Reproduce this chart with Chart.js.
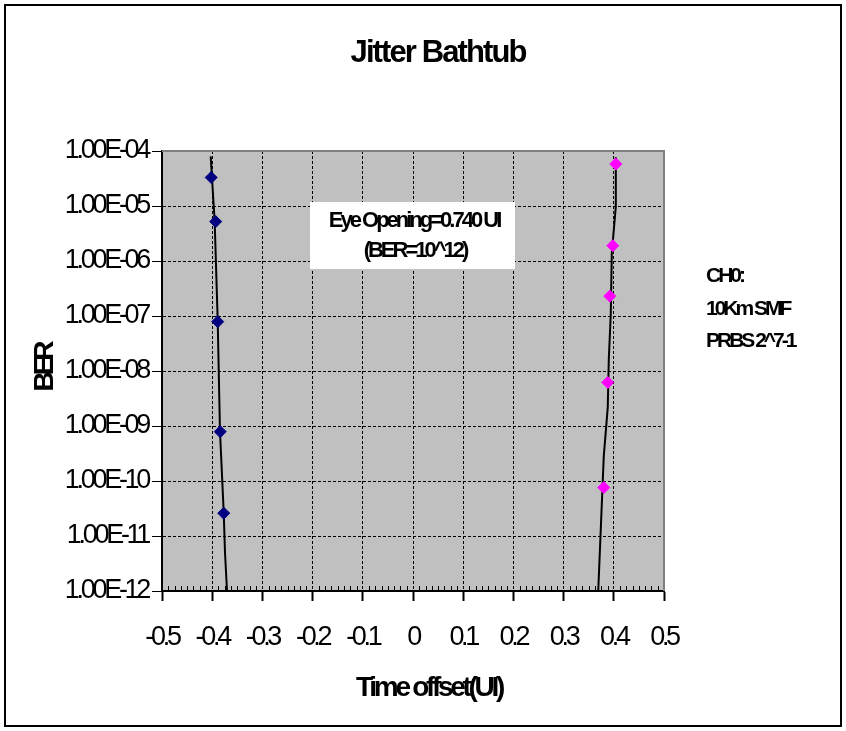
<!DOCTYPE html>
<html>
<head>
<meta charset="utf-8">
<script src="https://cdn.jsdelivr.net/npm/chart.js@4/dist/chart.umd.min.js"></script>
<style>
  body { margin: 0; background: #fff; }
  #wrap { width: 846px; height: 731px; }
</style>
</head>
<body>
<div id="wrap"><canvas id="chart" width="846" height="731"></canvas></div>
<script>
// Measured points (time offset in UI, BER)
const leftX = [-0.402, -0.393, -0.389, -0.384, -0.377];
const leftBER = [3.3e-5, 5.2e-6, 7.9e-8, 7.9e-10, 2.6e-11];
const rightX = [0.404, 0.398, 0.392, 0.388, 0.380];
const rightBER = [5.8e-5, 1.9e-6, 2.3e-7, 6.2e-9, 7.6e-11];

// Fitted bathtub curves
const leftFitX = [-0.403, -0.395, -0.389, -0.3845, -0.377, -0.3745, -0.3705];
const leftFitBER = [8e-5, 5e-6, 8e-8, 8e-10, 2.6e-11, 5e-12, 1e-12];
const rightFitX = [0.404, 0.404, 0.396, 0.394, 0.390, 0.388, 0.380, 0.369];
const rightFitBER = [7.7e-5, 9.7e-6, 1.4e-6, 1.1e-7, 1.6e-8, 2.2e-9, 2.8e-10, 1e-12];

// Axis ticks
const xTickValues = [-0.5, -0.4, -0.3, -0.2, -0.1, 0, 0.1, 0.2, 0.3, 0.4, 0.5];
const xTickLabels = ["-0.5", "-0.4", "-0.3", "-0.2", "-0.1", "0", "0.1", "0.2", "0.3", "0.4", "0.5"];
const yTickValues = [1e-12, 1e-11, 1e-10, 1e-9, 1e-8, 1e-7, 1e-6, 1e-5, 1e-4];
const yTickLabels = ["1.00E-12", "1.00E-11", "1.00E-10", "1.00E-09", "1.00E-08", "1.00E-07", "1.00E-06", "1.00E-05", "1.00E-04"];

const notes = ["CH0:", "10Km SMF", "PRBS 2^7-1"];
const boxLines = ["Eye Opening=0.740 UI", "(BER=10^12)"];

const FONT = "'Liberation Sans', Arial, sans-serif";
Chart.defaults.font.family = FONT;
Chart.defaults.color = "#000";

const toPoints = (xs, ys) => xs.map((x, i) => ({ x: x, y: ys[i] }));

function drawText(ctx, text, x, y, size, spacing, align, bold) {
    ctx.save();
    ctx.font = (bold ? "bold " : "") + size + "px " + FONT;
    ctx.letterSpacing = spacing + "px";
    ctx.fillStyle = "#000";
    ctx.textAlign = align;
    ctx.textBaseline = "alphabetic";
    ctx.fillText(text, x, y);
    ctx.restore();
}

const excelLook = {
    id: "excelLook",
    beforeDraw(chart) {
        const { ctx, chartArea: a } = chart;
        ctx.save();
        ctx.fillStyle = "#c0c0c0";
        ctx.fillRect(a.left, a.top, a.right - a.left, a.bottom - a.top);
        ctx.restore();
        ctx.letterSpacing = "-3.3px";
    },
    afterDraw(chart) {
        const { ctx, chartArea: a } = chart;
        const xs = chart.scales.x;
        ctx.save();
        ctx.letterSpacing = "0px";
        // top and right plot border
        ctx.strokeStyle = "#808080";
        ctx.lineWidth = 2;
        ctx.beginPath();
        ctx.moveTo(a.left, a.top);
        ctx.lineTo(a.right, a.top);
        ctx.lineTo(a.right, a.bottom);
        ctx.stroke();
        // minor ticks inside on x axis
        ctx.strokeStyle = "#000";
        ctx.lineWidth = 1;
        for (let k = 0; k <= 80; k++) {
            if (k % 8 === 0) continue;
            const px = Math.round(xs.getPixelForValue(-0.5 + k * 0.0125)) + 0.5;
            ctx.beginPath();
            ctx.moveTo(px, a.bottom);
            ctx.lineTo(px, a.bottom - 5);
            ctx.stroke();
        }
        // outer frame
        ctx.lineWidth = 2;
        ctx.strokeRect(5, 5, 836, 721);
        // annotation box
        ctx.fillStyle = "#fff";
        ctx.fillRect(310, 202, 205, 67);
        ctx.restore();

        drawText(ctx, "Jitter Bathtub", 438, 62, 31, -1.9, "center", true);
        drawText(ctx, "Time offset(UI)", 429, 696, 28, -3.3, "center", true);
        ctx.save();
        ctx.translate(53, 368);
        ctx.rotate(-Math.PI / 2);
        drawText(ctx, "BER", 0, 0, 28, -4, "center", true);
        ctx.restore();

        drawText(ctx, boxLines[0], 414, 227, 22, -3, "center", true);
        drawText(ctx, boxLines[1], 415, 257, 22, -3, "center", true);

        const noteY = [282, 315, 347];
        notes.forEach((t, i) => drawText(ctx, t, 706, noteY[i], 21, -3, "left", true));
    }
};

new Chart(document.getElementById("chart"), {
    type: "scatter",
    data: {
        datasets: [
            {
                data: toPoints(leftX, leftBER),
                pointStyle: "rectRot",
                pointRadius: 6,
                backgroundColor: "#000080",
                borderColor: "#000080",
                borderWidth: 1
            },
            {
                data: toPoints(rightX, rightBER),
                pointStyle: "rectRot",
                pointRadius: 6,
                backgroundColor: "#ff00ff",
                borderColor: "#ff00ff",
                borderWidth: 1
            },
            {
                data: toPoints(leftFitX, leftFitBER),
                showLine: true,
                pointRadius: 0,
                borderColor: "#000",
                borderWidth: 2
            },
            {
                data: toPoints(rightFitX, rightFitBER),
                showLine: true,
                pointRadius: 0,
                borderColor: "#000",
                borderWidth: 2
            }
        ]
    },
    options: {
        responsive: false,
        animation: false,
        devicePixelRatio: 1,
        layout: { padding: { left: 0, top: 151, right: 182, bottom: 0 } },
        plugins: { legend: { display: false }, tooltip: { enabled: false } },
        scales: {
            x: {
                type: "linear",
                min: -0.5,
                max: 0.5,
                afterBuildTicks(scale) {
                    scale.ticks = xTickValues.map(v => ({ value: v }));
                },
                afterFit(scale) { scale.height = 140; },
                ticks: {
                    callback: (v, i) => xTickLabels[i],
                    font: { size: 27 },
                    color: "#000",
                    padding: 20,
                    maxRotation: 0,
                    autoSkip: false
                },
                grid: {
                    color: c => (c.tick && (c.tick.value === -0.5 || c.tick.value === 0.5)) ? "rgba(0,0,0,0)" : "#000",
                    lineWidth: 1,
                    tickColor: "#000",
                    tickWidth: 2,
                    tickLength: 10
                },
                border: { display: true, color: "#000", width: 2, dash: [3, 2] }
            },
            y: {
                type: "logarithmic",
                min: 1e-12,
                max: 1e-4,
                afterBuildTicks(scale) {
                    scale.ticks = yTickValues.map(v => ({ value: v }));
                },
                afterFit(scale) { scale.width = 162; },
                ticks: {
                    callback: (v, i) => yTickLabels[i],
                    font: { size: 27 },
                    color: "#000",
                    padding: 4,
                    autoSkip: false
                },
                grid: {
                    color: c => (c.tick && (c.index === 0 || c.index === yTickValues.length - 1)) ? "rgba(0,0,0,0)" : "#000",
                    lineWidth: 1,
                    tickColor: "#000",
                    tickWidth: 1,
                    tickLength: 10
                },
                border: { display: true, color: "#000", width: 2, dash: [3, 2] }
            }
        }
    },
    plugins: [excelLook]
});
</script>
</body>
</html>
